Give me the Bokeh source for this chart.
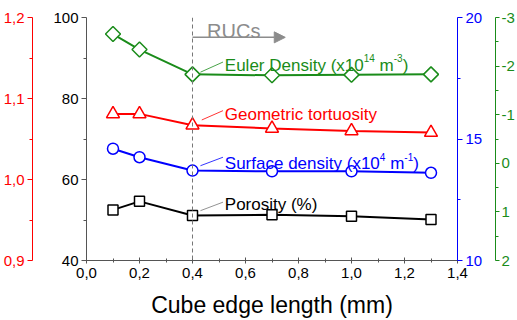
import math
from bokeh.plotting import figure
from bokeh.models import (Range1d, LinearAxis, FixedTicker, CustomJSTickFormatter,
                          Span, Arrow, NormalHead, Label)
from bokeh.embed import file_html
from bokeh.resources import INLINE

# ---------------- data ----------------
cube_edge = [0.1, 0.2, 0.4, 0.7, 1.0, 1.3]
porosity = [52.5, 54.6, 51.1, 51.3, 50.9, 50.1]
surface_density = [14.6, 14.25, 13.70, 13.67, 13.67, 13.61]
tortuosity = [1.081, 1.081, 1.067, 1.063, 1.060, 1.058]
euler_density = [-2.66, -2.34, -1.83, -1.81, -1.82, -1.83]

x_ticks = [0.0, 0.2, 0.4, 0.6, 0.8, 1.0, 1.2, 1.4]
x_minor = [0.1, 0.3, 0.5, 0.7, 0.9, 1.1, 1.3]
por_ticks = [40, 60, 80, 100]
por_minor = [50, 70, 90]
tort_ticks = [0.9, 1.0, 1.1, 1.2]
tort_minor = [0.95, 1.05, 1.15]
surf_ticks = [10, 15, 20]
surf_minor = [12.5, 17.5]
euler_ticks = [-3, -2, -1, 0, 1, 2]
euler_minor = [-2.5, -1.5, -0.5, 0.5, 1.5]

ruc_start = 0.4
ruc_arrow_end = 0.75

# annotation anchors (x in mm, y in porosity units)
label_x = 0.522
label_y = {"euler": 88.2, "tort": 76.0, "surf": 63.9, "por": 53.8}
leader = {  # x0, y0, x1, y1
    "euler": (0.43, 86.5, 0.515, 89.0),
    "tort": (0.435, 74.7, 0.515, 77.0),
    "surf": (0.43, 63.4, 0.515, 65.5),
    "por": (0.43, 52.3, 0.515, 54.4),
}

FONT = "Liberation Sans"
GREEN = "#1a8c1a"
RED = "#ff0000"
BLUE = "#0000ff"
GREY = "#555555"
ARROW_GREY = "#8c8c8c"

p = figure(width=517, height=320, x_range=Range1d(0, 1.4), y_range=Range1d(40, 100),
           output_backend="svg", toolbar_location=None,
           min_border_top=17, min_border_right=0, min_border_left=14, min_border_bottom=0)
p.outline_line_color = None
p.grid.visible = False
p.background_fill_color = "white"
p.border_fill_color = "white"
p.extra_y_ranges = {
    "tort": Range1d(0.9, 1.2),
    "surf": Range1d(10, 20),
    "euler": Range1d(2, -3),
}

comma1 = "return tick.toFixed(1).replace('.', ',');"

# x axis
xa = p.xaxis[0]
xa.ticker = FixedTicker(ticks=x_ticks, minor_ticks=x_minor)
xa.formatter = CustomJSTickFormatter(code=comma1)
xa.axis_line_color = GREY
xa.major_tick_line_color = GREY
xa.minor_tick_line_color = GREY
xa.major_tick_in = 3
xa.major_tick_out = 3
xa.minor_tick_in = 2
xa.minor_tick_out = 2
xa.major_label_text_font = FONT
xa.major_label_text_font_size = "15px"
xa.major_label_text_color = "black"
xa.major_label_standoff = 4
xa.axis_label = "Cube edge length (mm)"
xa.axis_label_text_font = FONT
xa.axis_label_text_font_size = "23px"
xa.axis_label_text_font_style = "normal"
xa.axis_label_text_color = "black"
xa.axis_label_standoff = 11


def style_y(ax, color, line_color, ticks, minor, fmt, pad_size, pad_standoff):
    ax.ticker = FixedTicker(ticks=ticks, minor_ticks=minor)
    ax.formatter = CustomJSTickFormatter(code=fmt)
    ax.axis_line_color = line_color
    ax.major_tick_line_color = line_color
    ax.minor_tick_line_color = line_color
    ax.major_tick_in = 0
    ax.major_tick_out = 5
    ax.minor_tick_in = 0
    ax.minor_tick_out = 3
    ax.major_label_text_font = FONT
    ax.major_label_text_font_size = "15px"
    ax.major_label_text_color = color
    ax.major_label_standoff = 3
    if pad_size is None:
        ax.axis_label = None
    else:
        ax.axis_label = "\u00a0"
        ax.axis_label_text_font_size = pad_size
        ax.axis_label_standoff = pad_standoff


# black porosity axis (inner left)
style_y(p.yaxis[0], "black", GREY, por_ticks, por_minor,
        "return tick.toFixed(0);", "10px", 4)

# red tortuosity axis (outer left)
ax_t = LinearAxis(y_range_name="tort")
style_y(ax_t, RED, RED, tort_ticks, tort_minor, comma1, None, 0)
p.add_layout(ax_t, "left")

# blue surface density axis (inner right)
ax_s = LinearAxis(y_range_name="surf")
style_y(ax_s, BLUE, BLUE, surf_ticks, surf_minor, "return tick.toFixed(0);", None, 0)
ax_s.axis_label = " "
ax_s.axis_label_text_font_size = "7px"
ax_s.axis_label_standoff = 0
p.add_layout(ax_s, "right")

# green euler axis (outer right)
ax_e = LinearAxis(y_range_name="euler")
style_y(ax_e, GREEN, GREEN, euler_ticks, euler_minor, "return tick.toFixed(0);", None, 0)
ax_e.major_tick_out = 4
ax_e.major_label_standoff = 2
p.add_layout(ax_e, "right")

# RUC marker line + arrow
p.add_layout(Span(location=ruc_start, dimension="height", line_color="#777777",
                  line_dash="4 3", line_width=1))
p.add_layout(Arrow(end=NormalHead(size=11, fill_color=ARROW_GREY, line_color=ARROW_GREY),
                   x_start=ruc_start, y_start=95.1, x_end=ruc_arrow_end, y_end=95.1,
                   line_color=ARROW_GREY, line_width=1.5))
p.add_layout(Label(x=0.455, y=96.7, text="RUCs", text_font=FONT, text_font_size="20px",
                   text_color=ARROW_GREY, text_baseline="alphabetic"))

# series
series = [
    (porosity, "default", "black", "square", 10, 0),
    (surface_density, "surf", BLUE, "circle", 11, 0),
    (tortuosity, "tort", RED, "triangle", 13, 0),
    (euler_density, "euler", GREEN, "square", 10.6, math.pi / 4),
]
for ys, rng, col, mk, sz, ang in series:
    p.line(cube_edge, ys, line_color=col, line_width=2, y_range_name=rng)
    p.scatter(cube_edge, ys, marker=mk, size=sz, angle=ang, fill_color="white",
              line_color=col, line_width=1.5, y_range_name=rng)

# leader lines
leader_colors = {"euler": GREEN, "tort": RED, "surf": BLUE, "por": "#777777"}
for k, (x0, y0, x1, y1) in leader.items():
    p.segment(x0=[x0], y0=[y0], x1=[x1], y1=[y1], line_color=leader_colors[k], line_width=0.8)


def add_text(key, parts, color):
    off = 0.0
    for txt, sup, width in parts:
        p.add_layout(Label(x=label_x, y=label_y[key], x_offset=off, y_offset=7 if sup else 0,
                           text=txt, text_font=FONT,
                           text_font_size="10px" if sup else "17px",
                           text_color=color, text_baseline="alphabetic"))
        off += width


SP = 4.7  # width of a space at 17px
add_text("euler", [("Euler Density (x10", False, 138.9), ("14", True, 11.1 + SP),
                   ("m", False, 14.2), ("-3", True, 8.9), (")", False, 0)], GREEN)
add_text("tort", [("Geometric tortuosity", False, 0)], RED)
add_text("surf", [("Surface density (x10", False, 155.0), ("4", True, 5.6 + SP),
                  ("m", False, 14.2), ("-1", True, 8.9), (")", False, 0)], BLUE)
add_text("por", [("Porosity (%)", False, 0)], "black")

open("out.html", "w").write(file_html(p, INLINE))
